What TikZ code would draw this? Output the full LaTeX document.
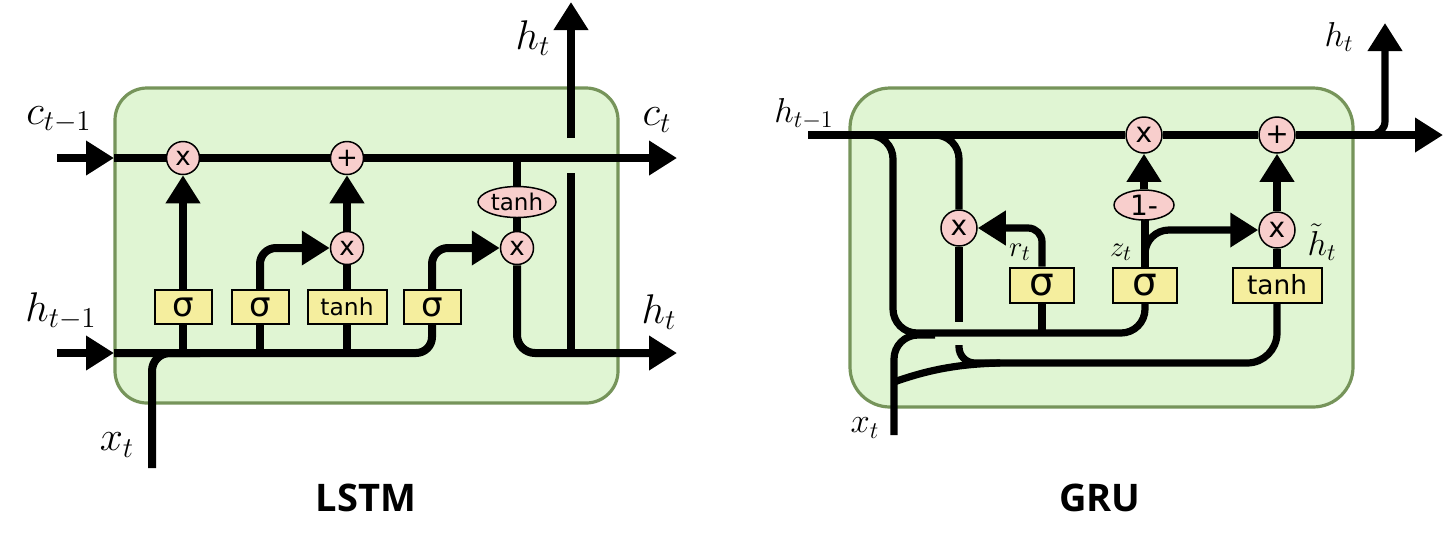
\documentclass[tikz,border=0pt]{standalone}
\usepackage{fontspec}
\newfontfamily\gatefont{DejaVu Sans}
\newfontfamily\titlefont{Open Sans}
\usetikzlibrary{arrows.meta,shapes.geometric,backgrounds}
\definecolor{cellfill}{HTML}{E0F5D3}
\definecolor{cellborder}{HTML}{76945A}
\definecolor{oppink}{HTML}{F8CECC}
\definecolor{gateyellow}{HTML}{F5EE9E}
\begin{document}
\begin{tikzpicture}[x=0.5pt,y=-0.5pt,
 cell/.style={fill=cellfill,draw=cellborder,line width=1.6pt,rounded corners=16pt},
 wire/.style={line width=4pt,line cap=butt},
 gwire/.style={line width=3.6pt,line cap=butt},
 arr/.style={-{Triangle[length=14pt,width=16.5pt]}},
 op/.style={circle,fill=oppink,draw=black,line width=0.75pt,minimum size=16.5pt,inner sep=0pt,font=\gatefont\fontsize{13}{13}\selectfont},
 gop/.style={op,minimum size=18pt,font=\gatefont\fontsize{14}{14}\selectfont},
 opell/.style={ellipse,fill=oppink,draw=black,line width=0.75pt,inner sep=0pt},
 gate/.style={rectangle,fill=gateyellow,draw=black,line width=1pt,inner sep=0pt,minimum height=17pt},
 lab/.style={inner sep=0pt,font=\fontsize{21.5}{21.5}\selectfont},
 glab/.style={inner sep=0pt,font=\fontsize{16.5}{16.5}\selectfont},
 ttl/.style={inner sep=0pt,font=\titlefont\bfseries\fontsize{19}{19}\selectfont}
]
%================ LSTM nodes
\node[op] (f) at (183,158) {x};
\node[op] (plus) at (347,158) {+};
\node[op] (m2) at (347,248) {x};
\node[op] (m3) at (517,248) {x};
\node[opell,minimum width=39pt,minimum height=15.5pt,font=\gatefont\fontsize{11.5}{11.5}\selectfont] (th) at (517,202) {tanh};
\node[gate,minimum width=28.5pt,font=\gatefont\fontsize{17}{17}\selectfont] (b1) at (183,307) {σ};
\node[gate,minimum width=28.5pt,font=\gatefont\fontsize{17}{17}\selectfont] (b2) at (260,307) {σ};
\node[gate,minimum width=39.5pt,font=\gatefont\fontsize{11.7}{11.7}\selectfont] (b3) at (347,307) {tanh};
\node[gate,minimum width=28.5pt,font=\gatefont\fontsize{17}{17}\selectfont] (b4) at (432,307) {σ};
\coordinate (cin) at (57,158);
\coordinate (cL) at (114,158);
\coordinate (cout) at (677,158);
\coordinate (cT) at (517,158);
\coordinate (hin) at (57,353);
\coordinate (hL) at (114,353);
\coordinate (hout) at (677,353);
\coordinate (xin) at (152,468);
\coordinate (xj) at (200,353);
\coordinate (b1j) at (183,353);
\coordinate (b2j) at (260,353);
\coordinate (b3j) at (347,353);
\coordinate (hv1) at (571,173);
\coordinate (hv2) at (571,353);
\coordinate (hup1) at (571,138);
\coordinate (hup2) at (571,2);
\node[lab] (lc) at (59,120) {$c_{t-1}$};
\node[lab] (lh) at (61,311) {$h_{t-1}$};
\node[lab] (lx) at (117,445) {$x_t$};
\node[lab] (lht) at (533,38) {$h_t$};
\node[lab] (lct) at (657,120) {$c_t$};
\node[lab] (lho) at (659,312) {$h_t$};
\node[ttl] (tl) at (366,498) {LSTM};
%================ GRU nodes
\node[gop] (gx1) at (1144,135) {x};
\node[gop] (gplus) at (1277,135) {+};
\node[gop] (gxr) at (959,228) {x};
\node[gop] (gx2) at (1277,230) {x};
\node[opell,minimum width=30pt,minimum height=15pt,font=\gatefont\fontsize{14}{14}\selectfont] (om) at (1144,205) {1-};
\node[gate,minimum width=32pt,minimum height=17.5pt,font=\gatefont\fontsize{19.5}{19.5}\selectfont] (sr) at (1042,285) {σ};
\node[gate,minimum width=32pt,minimum height=17.5pt,font=\gatefont\fontsize{19.5}{19.5}\selectfont] (sz) at (1145,285) {σ};
\node[gate,minimum width=44.5pt,minimum height=17.5pt,font=\gatefont\fontsize{13.2}{13.2}\selectfont] (gt) at (1277,285) {tanh};
\coordinate (gh0) at (808,135);
\coordinate (ghend) at (1443,135);
\coordinate (hb) at (1350,135);
\coordinate (htop) at (1385,23);
\coordinate (br1) at (858,135);
\coordinate (br1c) at (893,333);
\coordinate (srj) at (1042,333);
\coordinate (br2) at (912,135);
\coordinate (rlo) at (959,322);
\coordinate (rlo2) at (959,345);
\coordinate (lowj) at (1000,363);
\coordinate (xg) at (894,435);
\coordinate (xgj) at (935,335);
\coordinate (xsl) at (894,382);
\coordinate (zb) at (1145,262);
\coordinate (zt) at (1145,205);
\node[glab] (glh) at (804,114) {$h_{t-1}$};
\node[glab] (glht) at (1339,37) {$h_t$};
\node[glab] (glx) at (865,428) {$x_t$};
\node[glab,font=\fontsize{15.5}{15.5}\selectfont] (glr) at (1020,252) {$r_t$};
\node[glab,font=\fontsize{15.5}{15.5}\selectfont] (glz) at (1121,252) {$z_t$};
\node[glab] (glhh) at (1322,242) {$\tilde{h}_t$};
\node[ttl] (tg) at (1100,498) {GRU};
%================ background and wires
\begin{pgfonlayer}{background}
\fill[white] (0,0) rectangle (1450,543);
\useasboundingbox (0,0) rectangle (1450,543);
\draw[cell] (115,88) rectangle (618,403);
\draw[cell,rounded corners=20pt] (850,88) rectangle (1353,407);
% LSTM wires
\draw[wire,arr] (cin) -- (cL);
\draw[wire] (cL) -- (f);
\draw[wire] (f) -- (plus);
\draw[wire,arr] (plus) -- (cout);
\draw[wire,arr] (hin) -- (hL);
\draw[wire,rounded corners=8pt] (hL) -| (b4.south);
\draw[wire,rounded corners=9pt] (xin) |- (xj);
\draw[wire] (b1.south) -- (b1j);
\draw[wire] (b2.south) -- (b2j);
\draw[wire] (b3.south) -- (b3j);
\draw[wire,arr] (b1.north) -- (f.south);
\draw[wire,arr,rounded corners=8pt] (b2.north) |- (m2.west);
\draw[wire] (b3.north) -- (m2.south);
\draw[wire,arr] (m2.north) -- (plus.south);
\draw[wire,arr,rounded corners=8pt] (b4.north) |- (m3.west);
\draw[wire] (cT) -- (th.north);
\draw[wire] (th.south) -- (m3.north);
\draw[wire,arr,rounded corners=9pt] (m3.south) |- (hout);
\draw[wire] (hv1) -- (hv2);
\draw[wire,arr] (hup1) -- (hup2);
% GRU wires
\draw[gwire] (gh0) -- (gx1);
\draw[gwire] (gx1) -- (gplus);
\draw[gwire,arr] (gplus) -- (ghend);
\draw[gwire,arr,rounded corners=7pt] (hb) -| (htop);
\draw[gwire,rounded corners=12pt] (br1) -| (br1c) -| (sz.south);
\draw[gwire] (sr.south) -- (srj);
\draw[gwire,rounded corners=12pt] (br2) -| (gxr.north);
\draw[gwire] (gxr.south) -- (rlo);
\draw[gwire,rounded corners=8pt] (rlo2) |- (lowj);
\draw[gwire,rounded corners=15pt] (lowj) -| (gt.south);
\draw[gwire] (xsl) .. controls (925,371) and (955,364) .. (lowj);
\draw[gwire,rounded corners=12pt] (xg) |- (xgj);
\draw[gwire,arr,rounded corners=7pt] (sr.north) |- (gxr.east);
\draw[gwire] (sz.north) -- (zt);
\draw[gwire,arr] (om.north) -- (gx1.south);
\draw[gwire,arr,rounded corners=12pt] (zb) |- (gx2.west);
\draw[gwire] (gt.north) -- (gx2.south);
\draw[gwire,arr] (gx2.north) -- (gplus.south);
\end{pgfonlayer}
\end{tikzpicture}
\end{document}
